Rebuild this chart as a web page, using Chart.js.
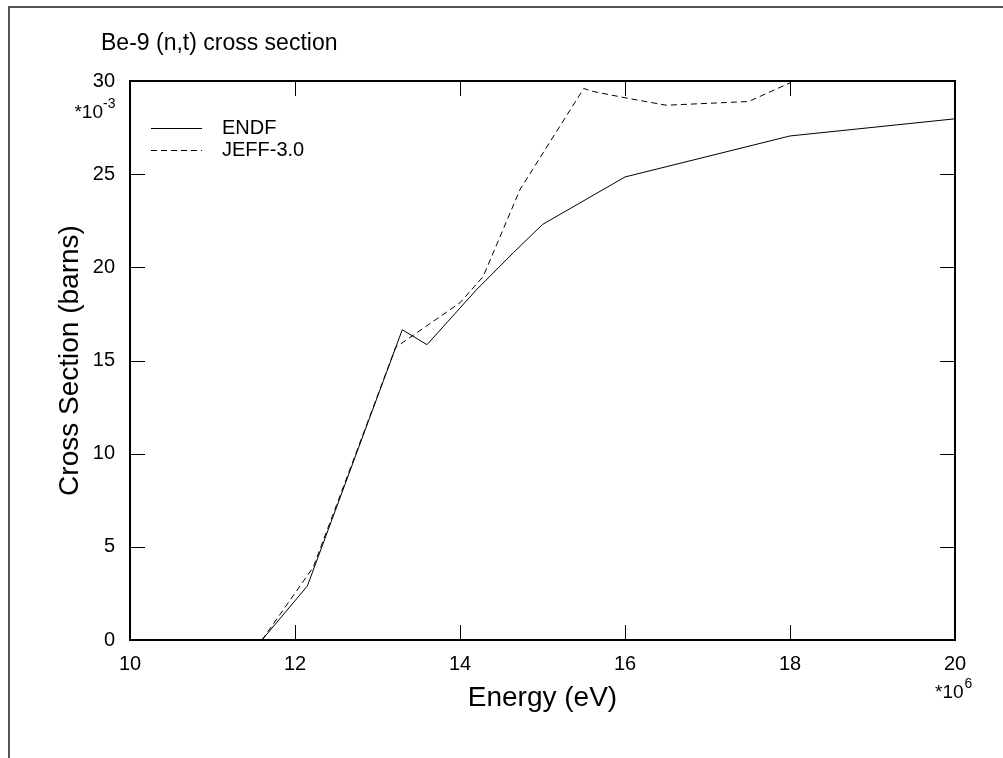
<!DOCTYPE html>
<html lang="en">
<head>
  <meta charset="UTF-8">
  <title>Be-9 (n,t) cross section</title>
  <script src="https://cdn.jsdelivr.net/npm/chart.js"></script>
  <style>
    * { margin: 0; padding: 0; box-sizing: border-box; }
    body { background: #fff; width: 1003px; height: 758px; overflow: hidden; }
    canvas { display: block; }
  </style>
</head>
<body>
  <canvas id="xsChart" width="1003" height="758"></canvas>

  <script>
    // Energy in MeV (axis is *10^6 eV), cross section in millibarns (axis is *10^-3 barns)
    const endfEnergy = [11.6, 12.15, 13.3, 13.6, 14.2, 14.65, 15.0, 16.0, 18.0, 20.0];
    const endfXs     = [0, 2.9, 16.65, 15.85, 18.8, 20.8, 22.3, 24.85, 27.05, 27.97];

    const jeffEnergy = [11.6, 12.22, 13.22, 14.0, 14.28, 14.73, 15.5, 15.6, 16.0, 16.5, 17.5, 18.0];
    const jeffXs     = [0, 3.9, 15.7, 18.1, 19.5, 24.2, 29.6, 29.45, 29.1, 28.7, 28.9, 29.9];

    const xTicks = [10, 12, 14, 16, 18, 20];
    const yTicks = [0, 5, 10, 15, 20, 25, 30];

    const FONT = "'Liberation Sans', Arial, Helvetica, sans-serif";

    function toPoints(xs, ys) {
      return xs.map((x, i) => ({ x: x, y: ys[i] }));
    }

    // frame, box, inward ticks, legend, title and exponent labels
    const decorPlugin = {
      id: 'decor',
      beforeDraw(chart) {
        const ctx = chart.ctx;
        ctx.save();
        ctx.fillStyle = '#fff';
        ctx.fillRect(0, 0, chart.width, chart.height);
        ctx.strokeStyle = '#555';
        ctx.lineWidth = 2;
        ctx.beginPath();
        ctx.moveTo(9, 758);
        ctx.lineTo(9, 7);
        ctx.lineTo(1003, 7);
        ctx.stroke();
        ctx.restore();
      },
      afterDraw(chart) {
        const ctx = chart.ctx;
        const a = chart.chartArea;
        const xs = chart.scales.x, ys = chart.scales.y;
        ctx.save();

        // plot box
        ctx.strokeStyle = '#000';
        ctx.lineWidth = 2;
        ctx.strokeRect(a.left, a.top, a.right - a.left, a.bottom - a.top);

        // inward tick marks
        ctx.lineWidth = 1;
        const tl = 15;
        ctx.beginPath();
        xs.ticks.forEach(t => {
          if (t.value === xs.min || t.value === xs.max) return;
          const px = Math.round(xs.getPixelForValue(t.value)) + 0.5;
          ctx.moveTo(px, a.bottom); ctx.lineTo(px, a.bottom - tl);
          ctx.moveTo(px, a.top); ctx.lineTo(px, a.top + tl);
        });
        ys.ticks.forEach(t => {
          if (t.value === ys.min || t.value === ys.max) return;
          const py = Math.round(ys.getPixelForValue(t.value)) + 0.5;
          ctx.moveTo(a.left, py); ctx.lineTo(a.left + tl, py);
          ctx.moveTo(a.right, py); ctx.lineTo(a.right - tl, py);
        });
        ctx.stroke();

        // legend
        ctx.fillStyle = '#000';
        ctx.font = '20px ' + FONT;
        ctx.textBaseline = 'middle';
        chart.data.datasets.forEach((ds, i) => {
          const y = 128 + i * 22 + 0.5;
          ctx.setLineDash(ds.borderDash || []);
          ctx.beginPath();
          ctx.moveTo(151, y); ctx.lineTo(202, y);
          ctx.stroke();
          ctx.setLineDash([]);
          ctx.fillText(ds.label, 222, y);
        });

        // title
        ctx.font = '23px ' + FONT;
        ctx.textBaseline = 'alphabetic';
        ctx.textAlign = 'left';
        ctx.fillText('Be-9 (n,t) cross section', 101, 50);

        // exponent labels
        ctx.font = '19px ' + FONT;
        ctx.textAlign = 'right';
        ctx.fillText('*10', 103, 118);
        ctx.font = '14px ' + FONT;
        ctx.textAlign = 'left';
        ctx.fillText('-3', 103, 108);

        ctx.font = '19px ' + FONT;
        ctx.textAlign = 'left';
        ctx.fillText('*10', 935, 698);
        const w = ctx.measureText('*10').width;
        ctx.font = '14px ' + FONT;
        ctx.fillText('6', 935 + w + 1, 688);

        ctx.restore();
      }
    };

    new Chart(document.getElementById('xsChart'), {
      type: 'line',
      data: {
        datasets: [
          {
            label: 'ENDF',
            data: toPoints(endfEnergy, endfXs),
            borderColor: '#000',
            borderWidth: 1,
            pointRadius: 0,
            tension: 0,
            fill: false
          },
          {
            label: 'JEFF-3.0',
            data: toPoints(jeffEnergy, jeffXs),
            borderColor: '#000',
            borderWidth: 1,
            borderDash: [6, 4],
            pointRadius: 0,
            tension: 0,
            fill: false
          }
        ]
      },
      options: {
        responsive: false,
        animation: false,
        layout: { padding: { left: 0, top: 81, right: 48, bottom: 0 } },
        plugins: {
          legend: { display: false },
          title: { display: false },
          tooltip: { enabled: false }
        },
        scales: {
          x: {
            type: 'linear',
            min: 10,
            max: 20,
            afterBuildTicks: s => { s.ticks = xTicks.map(v => ({ value: v })); },
            afterFit: s => { s.height = 118; },
            grid: { display: false },
            border: { display: false },
            ticks: {
              autoSkip: false,
              maxRotation: 0,
              padding: 4,
              color: '#000',
              font: { family: FONT, size: 20 }
            },
            title: {
              display: true,
              text: 'Energy (eV)',
              color: '#000',
              font: { family: FONT, size: 28 },
              padding: { top: 0, bottom: 43 }
            }
          },
          y: {
            type: 'linear',
            min: 0,
            max: 30,
            afterBuildTicks: s => { s.ticks = yTicks.map(v => ({ value: v })); },
            afterFit: s => { s.width = 130; },
            grid: { display: false },
            border: { display: false },
            ticks: {
              padding: 7,
              color: '#000',
              font: { family: FONT, size: 20 }
            },
            title: {
              display: true,
              text: 'Cross Section (barns)',
              color: '#000',
              font: { family: FONT, size: 28 },
              padding: { top: 53, bottom: 0 }
            }
          }
        }
      },
      plugins: [decorPlugin]
    });
  </script>
</body>
</html>
